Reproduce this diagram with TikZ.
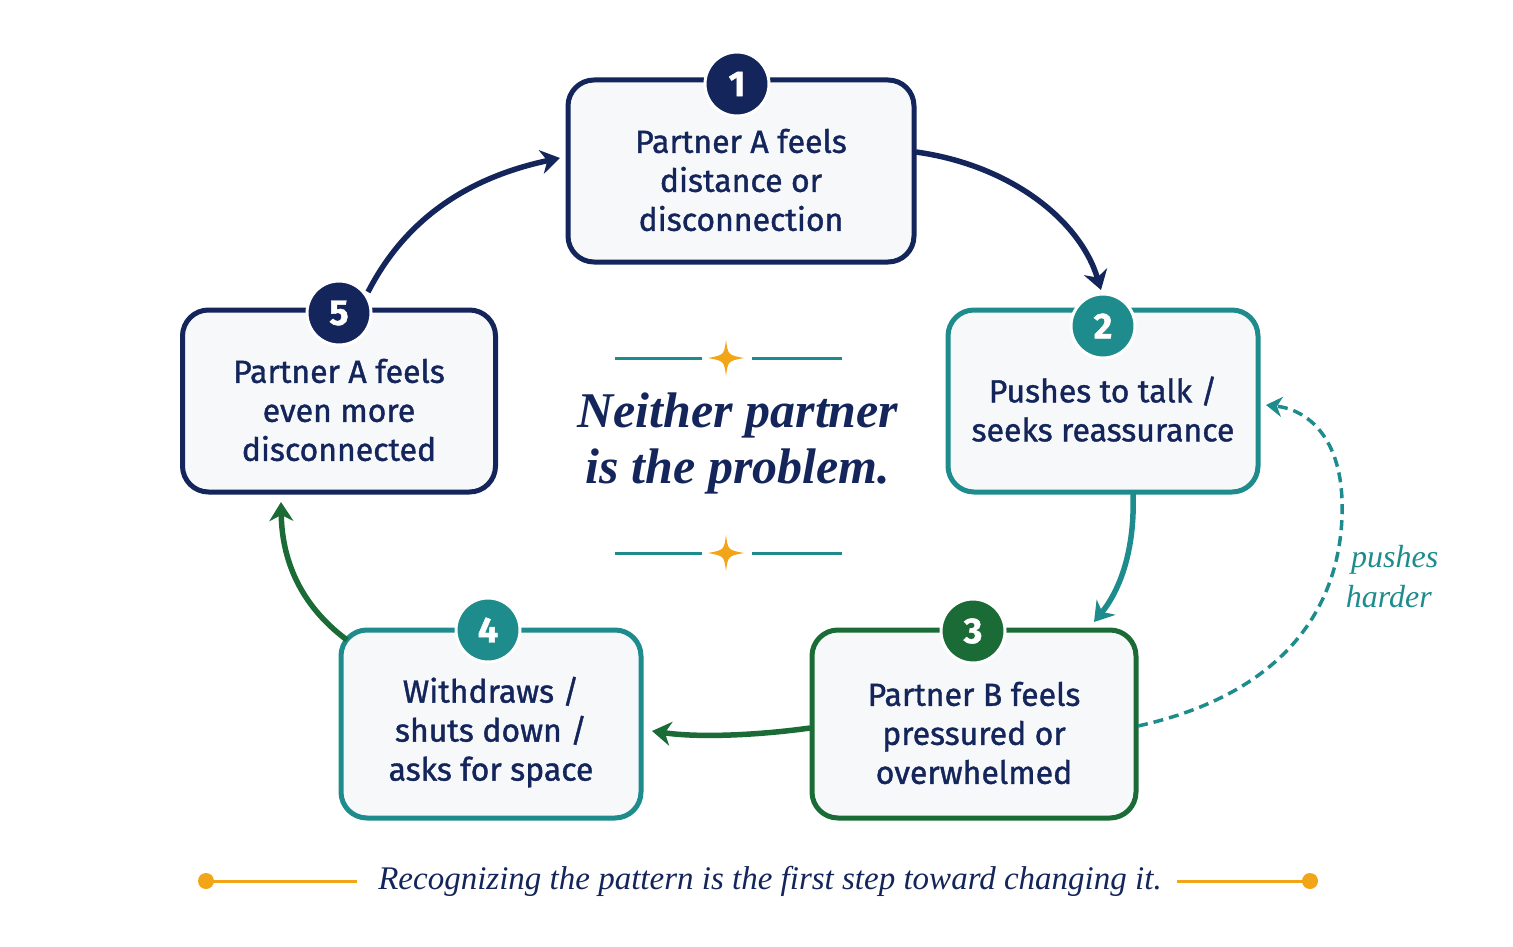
\documentclass[tikz,border=0pt]{standalone}
\usepackage{fontspec}
\setmainfont{Liberation Serif}
\newfontfamily\boxfont{Fira Sans}[FakeBold=1.2]
\usetikzlibrary{arrows.meta}
\definecolor{navy}{HTML}{13255A}
\definecolor{teal}{HTML}{1E8C8C}
\definecolor{grn}{HTML}{1A6B35}
\definecolor{orng}{HTML}{F2A516}
\definecolor{bg}{HTML}{F7F8FA}
\newcommand{\dn}{\rule{0pt}{42pt}}
\tikzset{
 box/.style={draw=#1, line width=5pt, rounded corners=26pt, fill=bg, align=center, font=\boxfont\fontsize{32}{39}\selectfont, text=navy, inner sep=0pt},
 num/.style={circle, fill=#1, draw=white, line width=3pt, minimum size=64pt, inner sep=0pt, text=white, font=\boxfont\bfseries\fontsize{36}{36}\selectfont},
 arr/.style={draw=#1, line width=5.5pt, -{Stealth[length=19pt,width=24pt,inset=6pt]}},
}
\begin{document}
\begin{tikzpicture}[x=1pt,y=-1pt]
\useasboundingbox (0,0) rectangle (1513,947);
% boxes
\node[box=navy, minimum width=346pt, minimum height=182pt] (b1) at (741,171) {\dn Partner A feels\\distance or\\disconnection};
\node[box=teal, minimum width=310pt, minimum height=182pt] (b2) at (1103,401) {\dn Pushes to talk /\\seeks reassurance};
\node[box=grn, minimum width=324pt, minimum height=188pt] (b3) at (974,724) {\dn Partner B feels\\pressured or\\overwhelmed};
\node[box=teal, minimum width=300pt, minimum height=188pt] (b4) at (491,724) {\dn Withdraws /\\shuts down /\\asks for space};
\node[box=navy, minimum width=313pt, minimum height=182pt] (b5) at (339,401) {\dn Partner A feels\\even more\\disconnected};
\node[num=navy] (n1) at (737,84) {1};
\node[num=teal] (n2) at (1103,326) {2};
\node[num=grn] (n3) at (973,631) {3};
\node[num=teal] (n4) at (488,630) {4};
\node[num=navy] (n5) at (339,313) {5};
% arrow endpoints
\coordinate (a1s) at (916,152); \coordinate (a1e) at (1101,290);
\coordinate (a2s) at (1133,494); \coordinate (a2e) at (1094,622);
\coordinate (a3s) at (810,728); \coordinate (a3e) at (652,731);
\coordinate (a4s) at (347,640); \coordinate (a4e) at (281,502);
\coordinate (a5s) at (368,292); \coordinate (a5e) at (560,158);
\coordinate (ds) at (1138,726); \coordinate (de) at (1266,405);
\draw[arr=navy] (a1s) .. controls (1010,165) and (1080,220) .. (a1e);
\draw[arr=teal] (a2s) .. controls (1135,550) and (1120,590) .. (a2e);
\draw[arr=grn] (a3s) .. controls (760,735) and (700,738) .. (a3e);
\draw[arr=grn] (a4s) .. controls (300,605) and (282,560) .. (a4e);
\draw[arr=navy] (a5s) .. controls (410,210) and (480,175) .. (a5e);
\draw[draw=teal, line width=3.5pt, dash pattern=on 10pt off 6pt, -{Stealth[length=16pt,width=20pt,inset=5pt]}]
 (ds) .. controls (1300,690) and (1345,590) .. (1342,500) .. controls (1340,440) and (1310,410) .. (de);
\node[text=teal, font=\itshape\fontsize{32}{40}\selectfont, align=left] (ph) at (1392,577) {\,pushes\\harder};
% center text
\node[text=navy, font=\bfseries\itshape\fontsize{50}{56}\selectfont, align=center] (ct) at (738,443) {Neither partner\\is the problem.};
\foreach \y [count=\i] in {358,553}{
 \coordinate (l1\i) at (615,\y); \coordinate (l2\i) at (702,\y);
 \coordinate (l3\i) at (752,\y); \coordinate (l4\i) at (842,\y);
 \draw[teal, line width=3pt] (l1\i) -- (l2\i);
 \draw[teal, line width=3pt] (l3\i) -- (l4\i);
 \fill[orng] (726,\y-18) .. controls (728,\y-3) .. (744,\y) .. controls (728,\y+3) .. (726,\y+18) .. controls (724,\y+3) .. (708,\y) .. controls (724,\y-3) .. cycle;
}
% bottom
\node[text=navy, font=\itshape\fontsize{33}{36}\selectfont] (bt) at (770,881) {Recognizing the pattern is the first step toward changing it.};
\coordinate (o1) at (206,881); \coordinate (o2) at (357,881);
\coordinate (o3) at (1177,881); \coordinate (o4) at (1310,881);
\draw[orng, line width=3pt] (o1) -- (o2);
\draw[orng, line width=3pt] (o3) -- (o4);
\fill[orng] (o1) circle (8pt) (o4) circle (8pt);
\end{tikzpicture}
\end{document}
